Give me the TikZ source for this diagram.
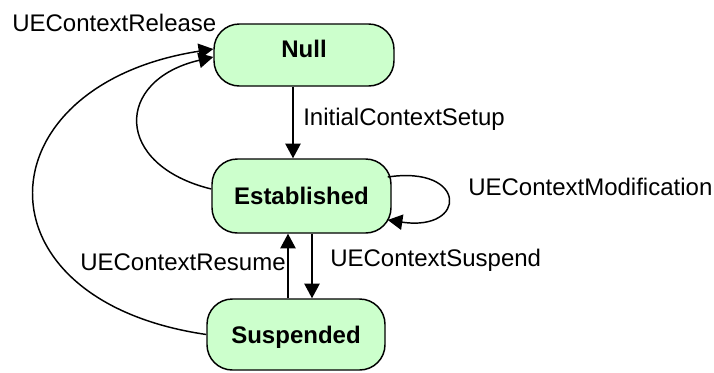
\documentclass[tikz,border=0pt]{standalone}
\usepackage{fontspec}
\setmainfont{Liberation Sans}
\usetikzlibrary{arrows.meta,calc}

\definecolor{stategreen}{RGB}{204,255,204}

\tikzset{
  state/.style={draw=black, line width=1.1pt, fill=stategreen, rounded corners=19pt,
    inner sep=0pt, text height=12.9pt, text depth=0pt,
    font=\fontsize{18pt}{21pt}\selectfont\bfseries},
  lbl/.style={inner sep=0pt, anchor=base west, font=\fontsize{18pt}{21pt}\selectfont},
  trans/.style={line width=1.1pt, -{Triangle[length=11pt,width=11.5pt]}}
}

\begin{document}
\begin{tikzpicture}[x=0.75pt, y=-0.75pt]
  \useasboundingbox (0,0) rectangle (714,372);

  % states
  \node[state, minimum width=135pt, minimum height=46.5pt, text depth=9.3pt] (Null) at (304,55) {Null};
  \node[state, minimum width=134.25pt, minimum height=55.5pt] (Established) at (301.5,196) {Established};
  \node[state, minimum width=133.5pt, minimum height=53.25pt] (Suspended) at (296,334.5) {Suspended};

  % transitions
  \draw[trans] ($(Null.south)+(-11,0)$) -- ($(Established.north)+(-8.5,0)$);
  \draw[trans] ($(Established.south)+(10.5,0)$) -- ($(Suspended.north)+(16,0)$);
  \draw[trans] ($(Suspended.north)+(-8,0)$) -- ($(Established.south)+(-13.5,0)$);
  \draw[trans] ($(Established.east)+(-4,-19)$) .. controls +(80,-12) and +(80,12) .. ($(Established.east)+(-4,24)$);
  \draw[trans] ($(Established.west)+(0,-7)$) .. controls +(-98,-24) and +(-99,23) .. ($(Null.west)+(0,2)$);
  \draw[trans] (Suspended.west) .. controls +(-236,-34.5) and +(-232,36) .. ($(Null.west)+(0,-6)$);

  % transition labels
  \node[lbl] (tRelease) at (12,31) {UEContextRelease};
  \node[lbl] (tSetup) at (303,125) {InitialContextSetup};
  \node[lbl] (tModification) at (468,195) {UEContextModification};
  \node[lbl] (tSuspend) at (330,266.5) {UEContextSuspend};
  \node[lbl] (tResume) at (80,270.5) {UEContextResume};
\end{tikzpicture}
\end{document}
